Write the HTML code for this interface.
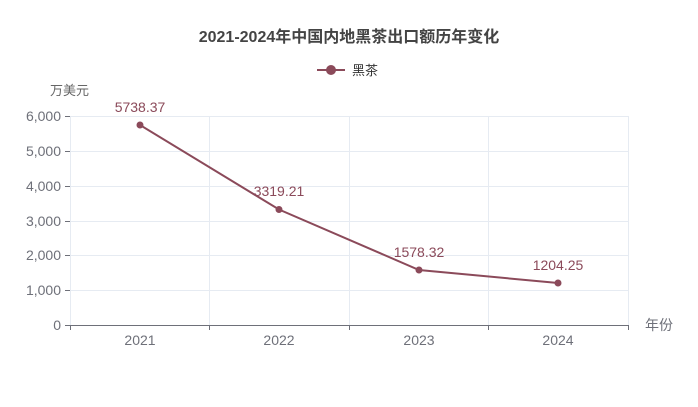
<!DOCTYPE html>
<html><head><meta charset="utf-8"><style>
body{margin:0;background:#fff;}
svg{display:block;font-family:"Liberation Sans","Noto Sans CJK SC",sans-serif;}
</style></head><body>
<svg width="698" height="407" viewBox="0 0 698 407">
<rect width="698" height="407" fill="#fff"/>
<text x="349" y="42" text-anchor="middle" font-size="16" font-weight="bold" fill="#444">2021-2024年中国内地黑茶出口额历年变化</text>
<line x1="317" y1="70" x2="345" y2="70" stroke="#8b4a5a" stroke-width="2"/>
<circle cx="331" cy="70" r="5" fill="#8b4a5a"/>
<text x="352" y="75" font-size="13" fill="#333">黑茶</text>
<text x="50" y="95" font-size="13" fill="#666">万美元</text>
<g stroke="#e6ebf2" stroke-width="1">
<line x1="70" y1="116.5" x2="628" y2="116.5"/>
<line x1="70" y1="151.5" x2="628" y2="151.5"/>
<line x1="70" y1="186.5" x2="628" y2="186.5"/>
<line x1="70" y1="221.5" x2="628" y2="221.5"/>
<line x1="70" y1="255.5" x2="628" y2="255.5"/>
<line x1="70" y1="290.5" x2="628" y2="290.5"/>
<line x1="70.5" y1="116" x2="70.5" y2="325"/>
<line x1="209.5" y1="116" x2="209.5" y2="325"/>
<line x1="349.5" y1="116" x2="349.5" y2="325"/>
<line x1="488.5" y1="116" x2="488.5" y2="325"/>
<line x1="628.5" y1="116" x2="628.5" y2="325"/>
</g>
<g stroke="#6e7079" stroke-width="1">
<line x1="65" y1="116.5" x2="70" y2="116.5"/>
<line x1="65" y1="151.5" x2="70" y2="151.5"/>
<line x1="65" y1="186.5" x2="70" y2="186.5"/>
<line x1="65" y1="221.5" x2="70" y2="221.5"/>
<line x1="65" y1="255.5" x2="70" y2="255.5"/>
<line x1="65" y1="290.5" x2="70" y2="290.5"/>
<line x1="65" y1="325.5" x2="628" y2="325.5"/>
<line x1="70.5" y1="325" x2="70.5" y2="330"/>
<line x1="209.5" y1="325" x2="209.5" y2="330"/>
<line x1="349.5" y1="325" x2="349.5" y2="330"/>
<line x1="488.5" y1="325" x2="488.5" y2="330"/>
<line x1="628.5" y1="325" x2="628.5" y2="330"/>
</g>
<g font-size="14" fill="#6e7079" text-anchor="end">
<text x="61" y="121">6,000</text>
<text x="61" y="156">5,000</text>
<text x="61" y="191">4,000</text>
<text x="61" y="226">3,000</text>
<text x="61" y="260">2,000</text>
<text x="61" y="295">1,000</text>
<text x="61" y="330">0</text>
</g>
<g font-size="14" fill="#6e7079" text-anchor="middle">
<text x="140" y="345">2021</text>
<text x="279" y="345">2022</text>
<text x="419" y="345">2023</text>
<text x="558" y="345">2024</text>
</g>
<text x="645" y="330" font-size="14" fill="#6e7079">年份</text>
<polyline points="140,125 279,209.5 419,270 558,283" fill="none" stroke="#8b4a5a" stroke-width="2"/>
<g fill="#8b4a5a">
<circle cx="140" cy="125" r="3.5"/><circle cx="279" cy="209.5" r="3.5"/>
<circle cx="419" cy="270" r="3.5"/><circle cx="558" cy="283" r="3.5"/>
</g>
<g font-size="14" fill="#8b4a5a" text-anchor="middle">
<text x="140" y="112">5738.37</text>
<text x="279" y="196">3319.21</text>
<text x="419" y="257">1578.32</text>
<text x="558" y="270">1204.25</text>
</g>
</svg>
</body></html>
